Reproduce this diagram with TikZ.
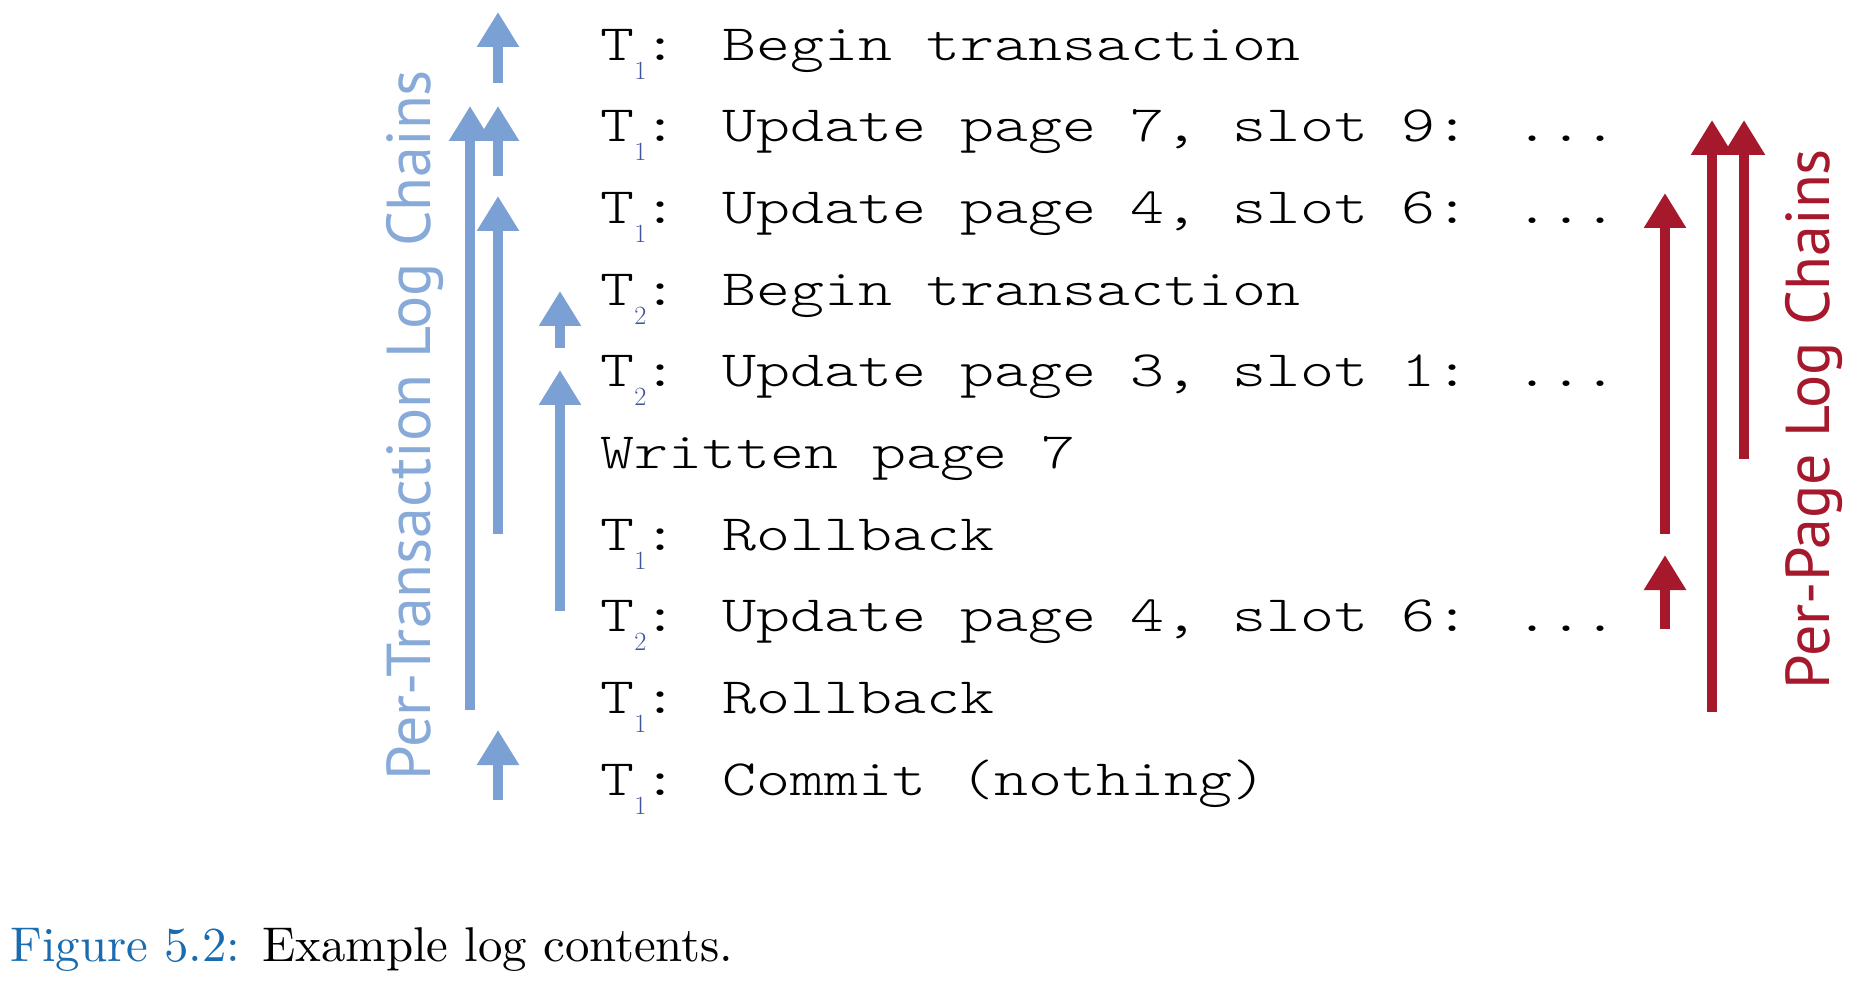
\documentclass[tikz,border=0pt]{standalone}
\usepackage{fontspec}
\usetikzlibrary{arrows.meta}

% typewriter face for the log records, widened to a Courier-like pitch
\newfontfamily\logfont{lmmonolt10-regular.otf}[FakeStretch=1.27]
\newfontfamily\labelfont{PT Sans}

\newlength\pxu
\setlength\pxu{0.02cm}

\definecolor{chainblue}{RGB}{122,160,212}
\definecolor{labelblue}{RGB}{136,170,216}
\definecolor{chainred}{RGB}{166,24,43}
\definecolor{subblue}{RGB}{62,84,150}
\definecolor{capblue}{RGB}{26,108,176}

% transaction name with its subscript number
\newcommand\txn[1]{T\makebox[9\pxu][l]{\raisebox{-19\pxu}{\color{subblue}\rmfamily\fontsize{15pt}{15pt}\selectfont #1}}}

\tikzset{
  logline/.style={anchor=base west, inner sep=0pt,
    font=\logfont\fontsize{29pt}{29pt}\selectfont},
  chainarrow/.style={line width=0.2cm,
    -{Triangle[length=0.7cm, width=0.8cm]}},
  txchain/.style={chainarrow, draw=chainblue, fill=chainblue},
  pgchain/.style={chainarrow, draw=chainred, fill=chainred},
  sidelabel/.style={rotate=90, anchor=base, inner sep=0pt, font=\labelfont},
}

\begin{document}
\begin{tikzpicture}[x=0.02cm, y=-0.02cm]
  \useasboundingbox (0,0) rectangle (1861,987);

  % log records, one per line
  \node[logline] (l1)  at (600,60)    {\txn{1}: Begin transaction};
  \node[logline] (l2)  at (600,141.7) {\txn{1}: Update page 7, slot 9: ...};
  \node[logline] (l3)  at (600,223.4) {\txn{1}: Update page 4, slot 6: ...};
  \node[logline] (l4)  at (600,305.1) {\txn{2}: Begin transaction};
  \node[logline] (l5)  at (600,386.8) {\txn{2}: Update page 3, slot 1: ...};
  \node[logline] (l6)  at (600,468.5) {Written page 7};
  \node[logline] (l7)  at (600,550.2) {\txn{1}: Rollback};
  \node[logline] (l8)  at (600,631.9) {\txn{2}: Update page 4, slot 6: ...};
  \node[logline] (l9)  at (600,713.6) {\txn{1}: Rollback};
  \node[logline] (l10) at (600,795.3) {\txn{1}: Commit (nothing)};

  % ends of the per-transaction chain links
  \coordinate (ta0) at (498,83);  \coordinate (ta1) at (498,12);
  \coordinate (tb0) at (470,710); \coordinate (tb1) at (470,106);
  \coordinate (tc0) at (498,176); \coordinate (tc1) at (498,106);
  \coordinate (td0) at (498,534); \coordinate (td1) at (498,196);
  \coordinate (te0) at (560,348); \coordinate (te1) at (560,291);
  \coordinate (tf0) at (560,611); \coordinate (tf1) at (560,370);
  \coordinate (tg0) at (498,800); \coordinate (tg1) at (498,730);

  \draw[txchain] (ta0) -- (ta1);
  \draw[txchain] (tb0) -- (tb1);
  \draw[txchain] (tc0) -- (tc1);
  \draw[txchain] (td0) -- (td1);
  \draw[txchain] (te0) -- (te1);
  \draw[txchain] (tf0) -- (tf1);
  \draw[txchain] (tg0) -- (tg1);

  % ends of the per-page chain links
  \coordinate (pa0) at (1665,534); \coordinate (pa1) at (1665,193);
  \coordinate (pb0) at (1665,629); \coordinate (pb1) at (1665,555);
  \coordinate (pc0) at (1712,712); \coordinate (pc1) at (1712,120);
  \coordinate (pd0) at (1744,459); \coordinate (pd1) at (1744,120);

  \draw[pgchain] (pa0) -- (pa1);
  \draw[pgchain] (pb0) -- (pb1);
  \draw[pgchain] (pc0) -- (pc1);
  \draw[pgchain] (pd0) -- (pd1);

  % chain captions
  \node[sidelabel, text=labelblue] (txlabel) at (430,425)
    {\resizebox{710\pxu}{!}{Per-Transaction Log Chains}};
  \node[sidelabel, text=chainred] (pglabel) at (1829,419)
    {\resizebox{540\pxu}{!}{Per-Page Log Chains}};

  % figure caption
  \node[anchor=base west, inner sep=0pt] (caption) at (10,961)
    {\resizebox{723\pxu}{!}{\textcolor{capblue}{Figure 5.2:} Example log contents.}};
\end{tikzpicture}
\end{document}
